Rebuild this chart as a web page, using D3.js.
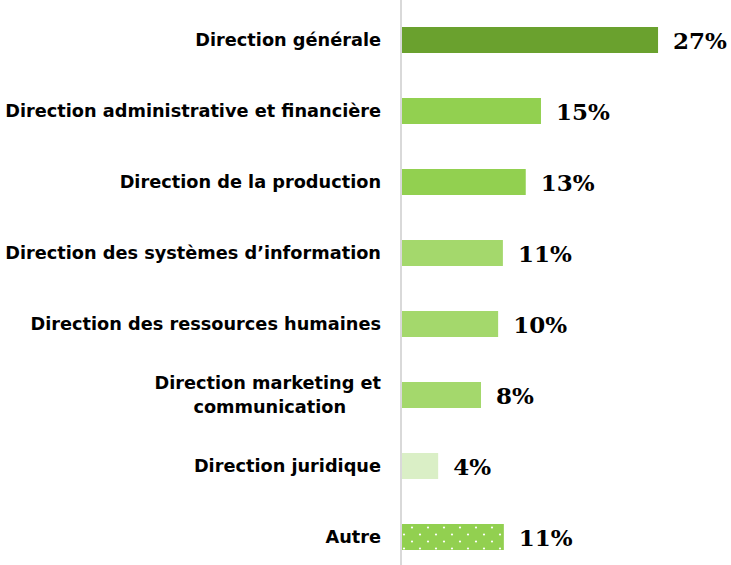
<!DOCTYPE html>
<html>
<head>
<meta charset="utf-8">
<script src="https://cdn.jsdelivr.net/npm/d3@7"></script>
<style>
  html, body { margin: 0; padding: 0; background: #fff; }
</style>
</head>
<body>
<div id="chart"></div>
<script>
"use strict";

const categories = [
    "Direction générale",
    "Direction administrative et financière",
    "Direction de la production",
    "Direction des systèmes d’information",
    "Direction des ressources humaines",
    "Direction marketing et|communication",
    "Direction juridique",
    "Autre"
];
const values = [26.9, 14.6, 13.0, 10.6, 10.1, 8.3, 3.8, 10.7];
const valueLabels = ["27%", "15%", "13%", "11%", "10%", "8%", "4%", "11%"];
const barColors = ["#6aa12e", "#92d050", "#92d050", "#a4d86c", "#a4d86c", "#a4d86c", "#daefc6", "url(#dots)"];

let width = 731, height = 565;
let font_label = "'DejaVu Sans', sans-serif";
let font_value = "'DejaVu Serif', serif";

let margin = {top: 4, right: 70, bottom: 0, left: 402};

let x = d3.scaleLinear([0, 27], [margin.left, margin.left + 257]);
let y = d3.scaleBand()
    .domain(d3.range(categories.length))
    .range([4.5, 4.5 + 71 * categories.length])
    .paddingInner(0.634)
    .paddingOuter(0.317);

const svg = d3.select("#chart")
    .append("svg")
    .attr("width", width)
    .attr("height", height);

// dotted fill for "Autre"
const pat = svg.append("defs").append("pattern")
    .attr("id", "dots")
    .attr("patternUnits", "userSpaceOnUse")
    .attr("width", 16)
    .attr("height", 14)
    .attr("x", 402)
    .attr("y", y(7));
pat.append("rect").attr("width", 16).attr("height", 14).attr("fill", "#92d050");
pat.append("circle").attr("cx", 10).attr("cy", 3.5).attr("r", 1.1).attr("fill", "#fff");
pat.append("circle").attr("cx", 2).attr("cy", 10.5).attr("r", 1.1).attr("fill", "#fff");

svg.append("g")
    .selectAll("rect")
    .data(values)
    .join("rect")
    .attr("x", x(0))
    .attr("y", (d, i) => y(i))
    .attr("width", d => x(d) - x(0))
    .attr("height", y.bandwidth())
    .attr("fill", (d, i) => barColors[i]);

// vertical axis line
const axis = d3.axisLeft(y).tickSize(0).tickFormat("");
svg.append("g")
    .attr("transform", `translate(${margin.left - 1},0)`)
    .call(axis)
    .call(g => g.select(".domain")
        .attr("d", `M0,0V${height}`)
        .attr("stroke", "#d9d9d9")
        .attr("stroke-width", 2));

// category labels
const labelSize = 16;
const labelX = 381;
const lab = svg.append("g")
    .style("font-family", font_label)
    .style("font-weight", "bold")
    .attr("font-size", labelSize)
    .attr("fill", "#000");

categories.forEach((c, i) => {
    const lines = c.split("|");
    const cy = y(i) + y.bandwidth() / 2;
    if (lines.length === 1) {
        lab.append("text")
            .attr("x", labelX)
            .attr("y", cy)
            .attr("dy", "0.35em")
            .attr("text-anchor", "end")
            .text(c);
    } else {
        lab.append("text")
            .attr("x", labelX)
            .attr("y", cy - 12)
            .attr("dy", "0.35em")
            .attr("text-anchor", "end")
            .text(lines[0]);
        lab.append("text")
            .attr("y", cy + 12)
            .attr("dy", "0.35em")
            .attr("text-anchor", "middle")
            .text(lines[1]);
    }
});

// size labels so the widest one spans the space left of the axis
const widest = d3.max(lab.selectAll("text").nodes(), n => n.getComputedTextLength());
lab.attr("font-size", labelSize * 376 / widest);
lab.selectAll("text").filter(function() { return this.getAttribute("text-anchor") === "middle"; })
    .each(function() {
        const prevText = this.previousSibling;
        d3.select(this).attr("x", labelX - prevText.getComputedTextLength() / 2 + 2);
    });

// value labels
svg.append("g")
    .style("font-family", font_value)
    .style("font-weight", "bold")
    .attr("font-size", 23)
    .attr("fill", "#000")
    .selectAll("text")
    .data(values)
    .join("text")
    .attr("x", d => x(d) + 15)
    .attr("y", (d, i) => y(i) + y.bandwidth() / 2)
    .attr("dy", "0.4em")
    .text((d, i) => valueLabels[i]);
</script>
</body>
</html>
